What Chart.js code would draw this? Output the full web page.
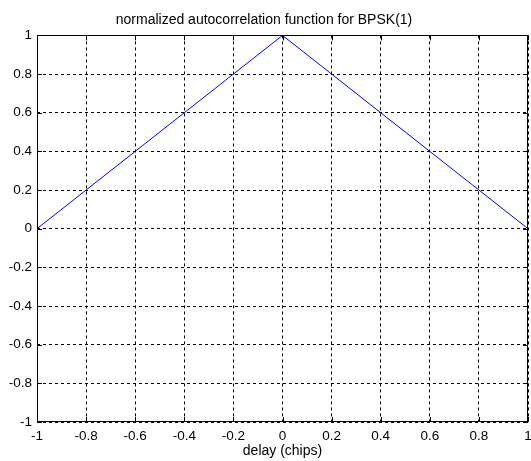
<!DOCTYPE html>
<html>
<head>
<meta charset="utf-8">
<script src="https://cdn.jsdelivr.net/npm/chart.js@4/dist/chart.umd.min.js"></script>
<style>
  html, body { margin: 0; padding: 0; background: #fff; }
  #wrap { width: 531px; height: 461px; }
</style>
</head>
<body>
<div id="wrap"><canvas id="c" width="531" height="461"></canvas></div>
<script>
// Normalized autocorrelation of a BPSK(1) code: a triangle over ±1 chip
const delayChips = [-1, 0, 1];
const correlation = [0, 1, 0];
const xTicks = [-1, -0.8, -0.6, -0.4, -0.2, 0, 0.2, 0.4, 0.6, 0.8, 1];
const yTicks = [-1, -0.8, -0.6, -0.4, -0.2, 0, 0.2, 0.4, 0.6, 0.8, 1];

const FONT = "'Liberation Sans', Arial, sans-serif";

function fmt(v) {
  const r = Math.round(v * 10) / 10;
  return String(r);
}

// Solid axes box with short inward tick marks on all four sides
const boxPlugin = {
  id: 'box',
  afterDatasetsDraw(chart) {
    const { ctx, chartArea: a, scales } = chart;
    ctx.save();
    ctx.strokeStyle = '#000';
    ctx.lineWidth = 1;
    ctx.setLineDash([]);
    ctx.strokeRect(Math.round(a.left) + 0.5, Math.round(a.top) + 0.5,
                   Math.round(a.right - a.left) - 1, Math.round(a.bottom - a.top) - 1);
    const t = 5;
    ctx.beginPath();
    xTicks.forEach(v => {
      const x = Math.round(scales.x.getPixelForValue(v)) + 0.5;
      ctx.moveTo(x, a.bottom); ctx.lineTo(x, a.bottom - t);
      ctx.moveTo(x, a.top); ctx.lineTo(x, a.top + t);
    });
    yTicks.forEach(v => {
      const y = Math.round(scales.y.getPixelForValue(v)) + 0.5;
      ctx.moveTo(a.left, y); ctx.lineTo(a.left + t, y);
      ctx.moveTo(a.right, y); ctx.lineTo(a.right - t, y);
    });
    ctx.stroke();
    ctx.restore();
  }
};

new Chart(document.getElementById('c'), {
  type: 'line',
  data: {
    datasets: [{
      data: delayChips.map((x, i) => ({ x, y: correlation[i] })),
      borderColor: '#0000ff',
      borderWidth: 1,
      pointRadius: 0,
      tension: 0,
      fill: false
    }]
  },
  options: {
    responsive: false,
    animation: false,
    layout: { padding: { left: 0, right: 3, top: 0, bottom: 0 } },
    plugins: {
      legend: { display: false },
      tooltip: { enabled: false },
      title: {
        display: true,
        text: 'normalized autocorrelation function for BPSK(1)',
        color: '#000',
        font: { family: FONT, size: 14, weight: 'normal' },
        padding: { top: 11.6, bottom: 7 }
      }
    },
    scales: {
      x: {
        type: 'linear',
        min: -1, max: 1,
        afterBuildTicks(s) { s.ticks = xTicks.map(v => ({ value: v })); },
        afterFit(s) { s.height = 39; s.paddingLeft = 0; s.paddingRight = 0; },
        ticks: {
          color: '#000',
          font: { family: FONT, size: 13.5 },
          padding: 6,
          maxRotation: 0,
          autoSkip: false,
          callback: v => fmt(v)
        },
        grid: { color: '#000', lineWidth: 1, drawTicks: false },
        border: { display: false, dash: [3, 3] },
        title: {
          display: true,
          text: 'delay (chips)',
          color: '#000',
          font: { family: FONT, size: 14 },
          padding: { top: 0, bottom: 1.6 }
        }
      },
      y: {
        type: 'linear',
        min: -1, max: 1,
        afterBuildTicks(s) { s.ticks = yTicks.map(v => ({ value: v })); },
        afterFit(s) { s.width = 37; s.paddingTop = 0; s.paddingBottom = 0; },
        ticks: {
          color: '#000',
          font: { family: FONT, size: 13.5 },
          padding: 5,
          autoSkip: false,
          callback: v => fmt(v)
        },
        grid: { color: '#000', lineWidth: 1, drawTicks: false },
        border: { display: false, dash: [3, 3] }
      }
    }
  },
  plugins: [boxPlugin]
});
</script>
</body>
</html>
